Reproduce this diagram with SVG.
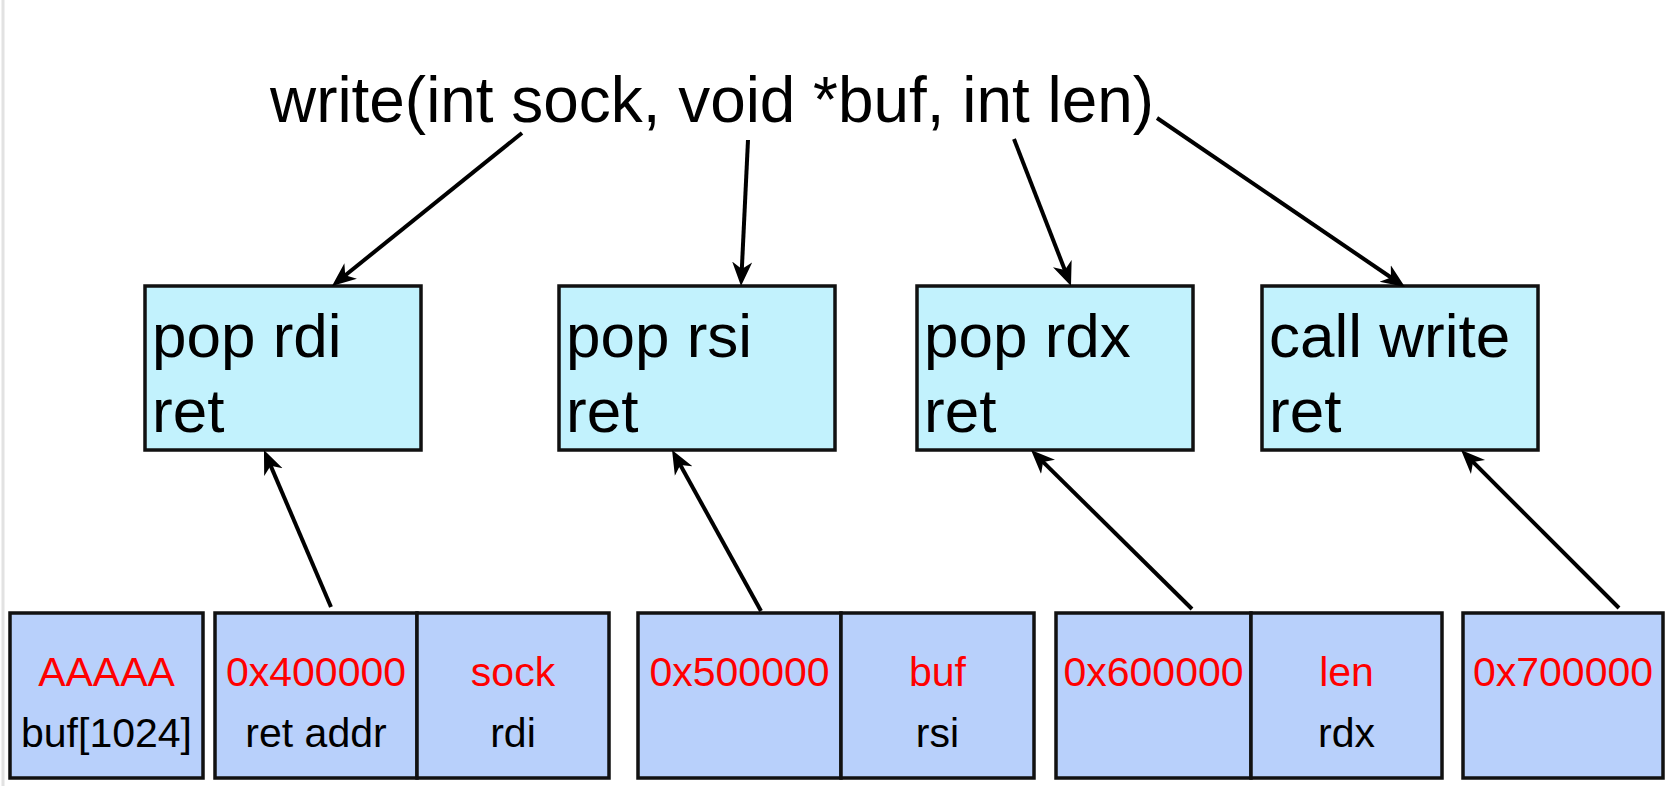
<svg xmlns="http://www.w3.org/2000/svg" width="1672" height="786" viewBox="0 0 1672 786">
<style>
  text { font-family: "Liberation Sans", Arial, sans-serif; }
  .gadget { fill: #C2F2FD; stroke: #111; stroke-width: 3.5; }
  .cell { fill: #B8D0FB; stroke: #111; stroke-width: 3.5; }
  .gtext { font-size: 62px; fill: #000; }
  .red { font-size: 41px; fill: #FF0000; text-anchor: middle; }
  .blk { font-size: 41px; fill: #000; text-anchor: middle; }
  .conn { stroke: #000; stroke-width: 4; fill: none; marker-end: url(#arr); }
</style>
<defs>
  <marker id="arr" markerUnits="userSpaceOnUse" markerWidth="26" markerHeight="22" refX="16" refY="11" orient="auto">
    <path d="M0,1 L24,11 L0,21 L7,11 Z" fill="#000"/>
  </marker>
</defs>
<rect width="1672" height="786" fill="#fff"/>
<line x1="3" y1="0" x2="3" y2="786" stroke="#E2E2E2" stroke-width="3"/>

<g id="title">
  <text x="270" y="122" font-size="65" textLength="884" lengthAdjust="spacingAndGlyphs">write(int sock, void *buf, int len)</text>
</g>

<g id="gadget-pop-rdi">
  <rect class="gadget" x="145" y="286" width="276" height="164"/>
  <text class="gtext" x="152" y="357">pop rdi</text>
  <text class="gtext" x="152" y="432">ret</text>
</g>
<g id="gadget-pop-rsi">
  <rect class="gadget" x="559" y="286" width="276" height="164"/>
  <text class="gtext" x="566" y="357">pop rsi</text>
  <text class="gtext" x="566" y="432">ret</text>
</g>
<g id="gadget-pop-rdx">
  <rect class="gadget" x="917" y="286" width="276" height="164"/>
  <text class="gtext" x="924" y="357">pop rdx</text>
  <text class="gtext" x="924" y="432">ret</text>
</g>
<g id="gadget-call-write">
  <rect class="gadget" x="1262" y="286" width="276" height="164"/>
  <text class="gtext" x="1269" y="357">call write</text>
  <text class="gtext" x="1269" y="432">ret</text>
</g>

<g id="cell-buf">
  <rect class="cell" x="10" y="613" width="193" height="165"/>
  <text class="red" x="106.5" y="686">AAAAA</text>
  <text class="blk" x="106.5" y="747">buf[1024]</text>
</g>
<g id="cell-ret-addr">
  <rect class="cell" x="215" y="613" width="202" height="165"/>
  <text class="red" x="316" y="686">0x400000</text>
  <text class="blk" x="316" y="747">ret addr</text>
</g>
<g id="cell-sock">
  <rect class="cell" x="417" y="613" width="192" height="165"/>
  <text class="red" x="513" y="686">sock</text>
  <text class="blk" x="513" y="747">rdi</text>
</g>
<g id="cell-0x500000">
  <rect class="cell" x="638" y="613" width="203" height="165"/>
  <text class="red" x="739.5" y="686">0x500000</text>
</g>
<g id="cell-buf-rsi">
  <rect class="cell" x="841" y="613" width="193" height="165"/>
  <text class="red" x="937.5" y="686">buf</text>
  <text class="blk" x="937.5" y="747">rsi</text>
</g>
<g id="cell-0x600000">
  <rect class="cell" x="1056" y="613" width="195" height="165"/>
  <text class="red" x="1153.5" y="686">0x600000</text>
</g>
<g id="cell-len">
  <rect class="cell" x="1251" y="613" width="191" height="165"/>
  <text class="red" x="1346.5" y="686">len</text>
  <text class="blk" x="1346.5" y="747">rdx</text>
</g>
<g id="cell-0x700000">
  <rect class="cell" x="1463" y="613" width="200" height="165"/>
  <text class="red" x="1563" y="686">0x700000</text>
</g>

<g id="connectors">
  <line class="conn" x1="522" y1="133" x2="338.2" y2="281"/>
  <line class="conn" x1="748" y1="140" x2="741.4" y2="278"/>
  <line class="conn" x1="1014" y1="139" x2="1068.1" y2="278.5"/>
  <line class="conn" x1="1157" y1="118" x2="1398.4" y2="282.5"/>
  <line class="conn" x1="331" y1="607" x2="267.1" y2="457.4"/>
  <line class="conn" x1="761" y1="611" x2="675.9" y2="457"/>
  <line class="conn" x1="1192" y1="609" x2="1036.7" y2="455.6"/>
  <line class="conn" x1="1619" y1="608" x2="1466.7" y2="455.7"/>
</g>
</svg>
